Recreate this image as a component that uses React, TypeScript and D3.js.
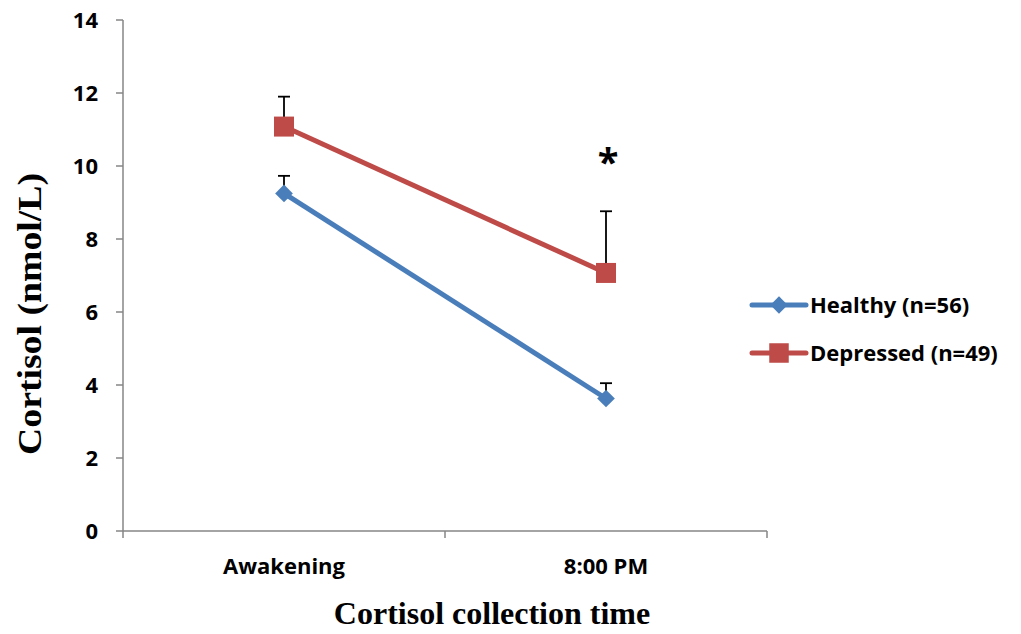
import React from "react";
import * as d3 from "d3";

// Cortisol levels at two collection times, by group
const categories = ["Awakening", "8:00 PM"];
const healthyValues = [9.25, 3.63];
const healthyErrors = [0.48, 0.42];
const depressedValues = [11.08, 7.07];
const depressedErrors = [0.82, 1.69];
const yTicks = [0, 2, 4, 6, 8, 10, 12, 14];
const seriesNames = ["Healthy (n=56)", "Depressed (n=49)"];
const significanceMarks = ["", "*"];

const W = 1021;
const H = 634;
const left = 123;
const right = 767;
const top = 20;
const bottom = 531;

const BLUE = "#4A7EBB";
const RED = "#BE4B48";
const AXIS = "#868686";
const LABEL_FONT = "'Open Sans', 'Liberation Sans', sans-serif";
const TITLE_FONT = "'Liberation Serif', 'DejaVu Serif', serif";

export default function App() {
  const x = d3.scaleBand<string>().domain(categories).range([left, right]).padding(0);
  const y = d3.scaleLinear().domain([0, 14]).range([bottom, top]);
  const cx = (c: string) => (x(c) as number) + x.bandwidth() / 2;

  const line = d3
    .line<number>()
    .x((_, i) => cx(categories[i]))
    .y((v) => y(v));

  const diamond = d3.symbol().type(d3.symbolDiamond2).size(200)() as string;
  const square = d3.symbol().type(d3.symbolSquare).size(400)() as string;
  const diamondSmall = d3.symbol().type(d3.symbolDiamond2).size(190)() as string;
  const squareSmall = d3.symbol().type(d3.symbolSquare).size(380)() as string;

  const series = [
    { name: seriesNames[0], values: healthyValues, errors: healthyErrors, color: BLUE, marker: diamond, legendMarker: diamondSmall },
    { name: seriesNames[1], values: depressedValues, errors: depressedErrors, color: RED, marker: square, legendMarker: squareSmall },
  ];

  const xBoundaries = [left, ...categories.map((c) => (x(c) as number) + x.bandwidth())];

  return (
    <svg width={W} height={H} style={{ position: "absolute", left: 0, top: 0, background: "#fff" }}>
      {/* y axis */}
      <line x1={left} x2={left} y1={top} y2={bottom} stroke={AXIS} strokeWidth={1.5} />
      {yTicks.map((t) => (
        <g key={t}>
          <line x1={left - 7} x2={left} y1={y(t)} y2={y(t)} stroke={AXIS} strokeWidth={1.5} />
          <text
            x={98}
            y={y(t)}
            dy="0.35em"
            textAnchor="end"
            fontFamily={LABEL_FONT}
            fontWeight="bold"
            fontSize={22}
            fill="#000"
          >
            {t}
          </text>
        </g>
      ))}

      {/* x axis */}
      <line x1={left} x2={right} y1={bottom} y2={bottom} stroke={AXIS} strokeWidth={1.5} />
      {xBoundaries.map((bx, i) => (
        <line key={i} x1={bx} x2={bx} y1={bottom} y2={bottom + 7} stroke={AXIS} strokeWidth={1.5} />
      ))}
      {categories.map((c) => (
        <text
          key={c}
          x={cx(c)}
          y={566}
          dy="0.35em"
          textAnchor="middle"
          fontFamily={LABEL_FONT}
          fontWeight="bold"
          fontSize={22}
          fill="#000"
        >
          {c}
        </text>
      ))}

      {/* axis titles */}
      <text
        x={492}
        y={624}
        textAnchor="middle"
        fontFamily={TITLE_FONT}
        fontWeight="bold"
        fontSize={32}
        fill="#000"
      >
        Cortisol collection time
      </text>
      <text
        transform={`translate(31, 314) rotate(-90)`}
        textAnchor="middle"
        dy="0.3em"
        fontFamily={TITLE_FONT}
        fontWeight="bold"
        fontSize={33}
        textLength={282}
        lengthAdjust="spacingAndGlyphs"
        fill="#000"
      >
        Cortisol (nmol/L)
      </text>

      {/* error bars (upper) */}
      {series.map((s) =>
        s.values.map((v, i) => {
          const px = cx(categories[i]);
          const yTop = y(v + s.errors[i]);
          return (
            <g key={s.name + i}>
              <line x1={px} x2={px} y1={y(v)} y2={yTop} stroke="#000" strokeWidth={1.8} />
              <line x1={px - 6} x2={px + 6} y1={yTop} y2={yTop} stroke="#000" strokeWidth={1.8} />
            </g>
          );
        })
      )}

      {/* lines and markers */}
      {series.map((s) => (
        <g key={s.name}>
          <path d={line(s.values) as string} fill="none" stroke={s.color} strokeWidth={5} />
          {s.values.map((v, i) => (
            <path key={i} d={s.marker} transform={`translate(${cx(categories[i])}, ${y(v)})`} fill={s.color} />
          ))}
        </g>
      ))}

      {/* significance */}
      {categories.map((c, i) =>
        significanceMarks[i] ? (
          <text
            key={c}
            x={cx(c) + 2}
            y={176}
            textAnchor="middle"
            fontFamily={LABEL_FONT}
            fontWeight="bold"
            fontSize={38}
            fill="#000"
          >
            {significanceMarks[i]}
          </text>
        ) : null
      )}

      {/* legend */}
      {series.map((s, i) => {
        const ly = 305 + i * 48;
        return (
          <g key={s.name}>
            <line x1={752} x2={806} y1={ly} y2={ly} stroke={s.color} strokeWidth={5} strokeLinecap="round" />
            <path d={s.legendMarker} transform={`translate(779, ${ly})`} fill={s.color} />
            <text
              x={810}
              y={ly}
              dy="0.35em"
              fontFamily={LABEL_FONT}
              fontWeight="bold"
              fontSize={22}
              fill="#000"
            >
              {s.name}
            </text>
          </g>
        );
      })}
    </svg>
  );
}
